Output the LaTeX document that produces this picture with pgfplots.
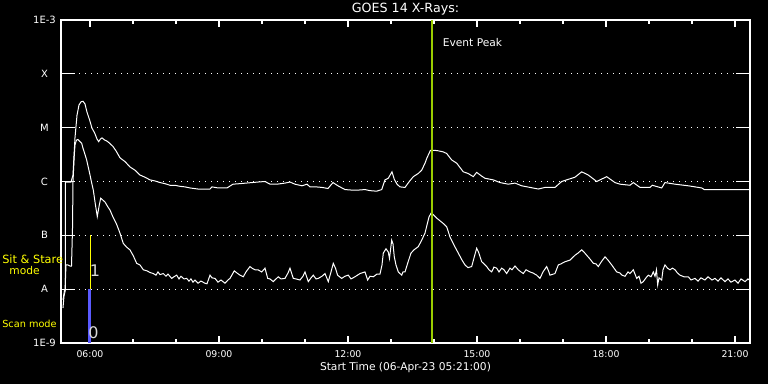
\documentclass[border=0pt]{standalone}
\usepackage{pgfplots}
\pgfplotsset{compat=1.18}
\usepackage{fontspec}
\setmainfont{DejaVu Sans}
\definecolor{peakgreen}{RGB}{154,205,0}
\definecolor{scanblue}{RGB}{90,90,255}
\definecolor{modeyellow}{RGB}{255,255,0}
\begin{document}
\begin{tikzpicture}
\path[fill=black, use as bounding box] (0,0) rectangle (576pt,288pt);
\begin{axis}[
  at={(45.75pt,30.75pt)}, anchor=south west,
  scale only axis, width=516.75pt, height=242.25pt,
  xmin=5.326, xmax=21.349, ymin=-9, ymax=-3,
  axis line style={white, line width=0.8pt},
  tick align=inside, xtick pos=both, ytick pos=both,
  xtick={6,9,12,15,18,21},
  xticklabels={06:00,09:00,12:00,15:00,18:00,21:00},
  minor x tick num=2,
  ytick={-9,-8,-7,-6,-5,-4,-3},
  yticklabels={1E-9,A,B,C,M,X,1E-3},
  major tick length=5.25pt, minor tick length=3pt,
  tick style={white, line width=0.8pt},
  ytick style={/pgfplots/major tick length=10.5pt},
  ymajorgrids,
  grid style={white, line width=0.8pt, dash pattern=on 0.75pt off 3.75pt},
  xticklabel style={anchor=center, yshift=-8.6pt, white, font=\fontsize{7}{8}\selectfont},
  yticklabel style={anchor=center, xshift=-12.4pt, white, font=\fontsize{7.5}{8}\selectfont},
  title={GOES 14 X-Rays:},
  title style={at={(axis description cs:0.5,1)}, anchor=center, yshift=2.25pt, white, font=\fontsize{9.5}{11}\selectfont},
  xlabel={Start Time (06-Apr-23 05:21:00)},
  xlabel style={at={(axis description cs:0.5,0)}, anchor=center, yshift=-18.75pt, white, font=\fontsize{8}{9}\selectfont},
]
\addplot[white, line width=0.75pt] coordinates {
(5.372,-8.20) (5.407,-8.02) (5.43,-8.02) (5.43,-6.01) (5.558,-6.01) (5.605,-5.88) (5.651,-5.19) (5.698,-4.77) (5.744,-4.58) (5.791,-4.52) (5.837,-4.51) (5.884,-4.56) (5.930,-4.71) (5.993,-4.86) (6.047,-5.01) (6.109,-5.10) (6.163,-5.21) (6.202,-5.26) (6.244,-5.21) (6.279,-5.19) (6.342,-5.23) (6.395,-5.25) (6.458,-5.29) (6.535,-5.35) (6.605,-5.43) (6.698,-5.56) (6.814,-5.63) (6.930,-5.73) (7.047,-5.79) (7.163,-5.88) (7.279,-5.92) (7.395,-5.97) (7.512,-5.99) (7.628,-6.02) (7.744,-6.04) (7.860,-6.07) (7.977,-6.07) (8.093,-6.09) (8.209,-6.10) (8.326,-6.12) (8.512,-6.14) (8.791,-6.14) (8.837,-6.10) (8.977,-6.12) (9.186,-6.12) (9.326,-6.05) (9.488,-6.04) (9.767,-6.02) (9.907,-6.01) (10.07,-6.00) (10.186,-6.05) (10.349,-6.05) (10.535,-6.03) (10.651,-6.01) (10.767,-6.05) (10.930,-6.08) (11.047,-6.05) (11.116,-6.10) (11.256,-6.10) (11.395,-6.11) (11.535,-6.13) (11.651,-6.02) (11.767,-6.08) (11.930,-6.15) (12.093,-6.16) (12.233,-6.16) (12.395,-6.15) (12.512,-6.17) (12.667,-6.18) (12.784,-6.15) (12.860,-5.97) (12.937,-5.94) (13.023,-5.82) (13.077,-5.96) (13.140,-6.05) (13.209,-6.10) (13.326,-6.11) (13.426,-6.00) (13.519,-5.91) (13.635,-5.85) (13.714,-5.79) (13.791,-5.66) (13.837,-5.56) (13.919,-5.42) (14.0,-5.42) (14.100,-5.43) (14.216,-5.45) (14.295,-5.48) (14.412,-5.60) (14.528,-5.66) (14.681,-5.82) (14.791,-5.85) (14.914,-5.91) (14.993,-5.83) (15.109,-5.90) (15.186,-5.94) (15.379,-5.97) (15.535,-6.02) (15.728,-6.05) (15.884,-6.03) (16.040,-6.08) (16.233,-6.11) (16.426,-6.14) (16.581,-6.11) (16.814,-6.11) (16.970,-6.00) (17.123,-5.96) (17.279,-5.92) (17.435,-5.82) (17.588,-5.88) (17.784,-6.00) (18.016,-5.91) (18.209,-6.02) (18.326,-6.05) (18.558,-6.07) (18.635,-6.02) (18.791,-6.11) (19.023,-6.11) (19.077,-6.07) (19.295,-6.12) (19.372,-6.02) (19.605,-6.05) (19.914,-6.08) (20.226,-6.12) (20.286,-6.15) (21.349,-6.15)
};
\addplot[white, line width=0.75pt] coordinates {
(5.372,-8.35) (5.395,-8.13) (5.419,-8.05) (5.442,-7.55) (5.488,-7.55) (5.535,-7.57) (5.570,-7.57) (5.593,-6.90) (5.605,-6.01) (5.628,-5.60) (5.651,-5.32) (5.686,-5.23) (5.721,-5.22) (5.767,-5.26) (5.807,-5.29) (5.837,-5.38) (5.877,-5.48) (5.923,-5.60) (5.953,-5.71) (5.993,-5.85) (6.035,-6.01) (6.077,-6.16) (6.128,-6.44) (6.170,-6.65) (6.209,-6.47) (6.249,-6.31) (6.291,-6.34) (6.349,-6.38) (6.407,-6.46) (6.465,-6.53) (6.535,-6.66) (6.612,-6.78) (6.698,-6.96) (6.774,-7.15) (6.853,-7.22) (6.930,-7.27) (7.007,-7.38) (7.086,-7.52) (7.163,-7.55) (7.240,-7.64) (7.326,-7.66) (7.395,-7.69) (7.472,-7.71) (7.535,-7.74) (7.581,-7.68) (7.628,-7.73) (7.705,-7.71) (7.767,-7.76) (7.814,-7.72) (7.900,-7.80) (7.953,-7.77) (8.016,-7.74) (8.070,-7.81) (8.116,-7.76) (8.186,-7.81) (8.249,-7.80) (8.302,-7.85) (8.349,-7.81) (8.395,-7.87) (8.442,-7.83) (8.512,-7.89) (8.581,-7.85) (8.674,-7.89) (8.721,-7.90) (8.791,-7.74) (8.837,-7.79) (8.907,-7.80) (8.977,-7.87) (9.047,-7.83) (9.140,-7.89) (9.209,-7.83) (9.256,-7.80) (9.356,-7.66) (9.419,-7.70) (9.488,-7.74) (9.565,-7.77) (9.628,-7.68) (9.721,-7.58) (9.767,-7.61) (9.837,-7.64) (9.907,-7.64) (9.993,-7.68) (10.07,-7.61) (10.133,-7.80) (10.186,-7.81) (10.263,-7.86) (10.326,-7.81) (10.379,-7.77) (10.442,-7.81) (10.535,-7.80) (10.605,-7.70) (10.651,-7.61) (10.728,-7.80) (10.791,-7.81) (10.884,-7.83) (10.953,-7.76) (11.0,-7.68) (11.077,-7.86) (11.140,-7.79) (11.193,-7.74) (11.256,-7.81) (11.309,-7.80) (11.395,-7.76) (11.465,-7.71) (11.542,-7.86) (11.605,-7.68) (11.658,-7.52) (11.709,-7.61) (11.758,-7.74) (11.853,-7.80) (11.930,-7.76) (12.007,-7.74) (12.070,-7.81) (12.163,-7.77) (12.279,-7.71) (12.395,-7.68) (12.458,-7.83) (12.512,-7.76) (12.588,-7.77) (12.674,-7.72) (12.744,-7.72) (12.791,-7.55) (12.821,-7.33) (12.884,-7.25) (12.937,-7.31) (12.965,-7.43) (13.016,-7.09) (13.047,-7.16) (13.077,-7.40) (13.116,-7.55) (13.170,-7.68) (13.249,-7.74) (13.279,-7.68) (13.326,-7.68) (13.395,-7.50) (13.465,-7.33) (13.535,-7.27) (13.635,-7.21) (13.714,-7.09) (13.791,-6.96) (13.837,-6.81) (13.884,-6.66) (13.930,-6.59) (13.977,-6.61) (14.063,-6.68) (14.140,-6.73) (14.216,-6.78) (14.295,-6.84) (14.372,-7.03) (14.465,-7.18) (14.565,-7.33) (14.651,-7.46) (14.721,-7.55) (14.791,-7.60) (14.877,-7.58) (14.930,-7.42) (14.993,-7.24) (15.035,-7.31) (15.109,-7.49) (15.163,-7.53) (15.226,-7.58) (15.279,-7.64) (15.342,-7.68) (15.395,-7.59) (15.458,-7.61) (15.512,-7.68) (15.574,-7.61) (15.628,-7.64) (15.690,-7.71) (15.767,-7.61) (15.814,-7.64) (15.884,-7.57) (15.960,-7.64) (16.023,-7.68) (16.077,-7.71) (16.140,-7.64) (16.233,-7.68) (16.302,-7.70) (16.388,-7.74) (16.465,-7.80) (16.535,-7.68) (16.620,-7.58) (16.663,-7.66) (16.698,-7.74) (16.814,-7.71) (16.891,-7.55) (16.953,-7.53) (17.047,-7.49) (17.163,-7.46) (17.279,-7.37) (17.349,-7.33) (17.435,-7.27) (17.488,-7.31) (17.551,-7.37) (17.628,-7.44) (17.705,-7.52) (17.767,-7.53) (17.821,-7.58) (17.884,-7.50) (17.977,-7.40) (18.047,-7.46) (18.133,-7.55) (18.186,-7.61) (18.249,-7.68) (18.326,-7.70) (18.372,-7.74) (18.442,-7.76) (18.512,-7.68) (18.558,-7.71) (18.635,-7.64) (18.714,-7.80) (18.767,-7.76) (18.814,-7.89) (18.867,-7.86) (18.930,-7.79) (18.984,-7.74) (19.047,-7.77) (19.100,-7.68) (19.140,-7.76) (19.174,-7.64) (19.202,-7.92) (19.233,-7.79) (19.295,-7.83) (19.326,-7.64) (19.372,-7.55) (19.430,-7.61) (19.488,-7.64) (19.547,-7.61) (19.605,-7.64) (19.663,-7.70) (19.721,-7.74) (19.814,-7.77) (19.914,-7.77) (19.977,-7.83) (20.070,-7.80) (20.140,-7.85) (20.209,-7.79) (20.302,-7.83) (20.372,-7.77) (20.465,-7.83) (20.535,-7.80) (20.605,-7.85) (20.674,-7.79) (20.767,-7.86) (20.837,-7.81) (20.907,-7.87) (21.0,-7.83) (21.070,-7.89) (21.140,-7.81) (21.233,-7.86) (21.302,-7.81) (21.349,-7.84)
};
\addplot[scanblue, line width=2.25pt] coordinates {(5.984,-9) (5.984,-8)};
\addplot[modeyellow, line width=0.9pt] coordinates {(6.016,-8) (6.016,-7)};
\addplot[peakgreen, line width=1.9pt] coordinates {(13.953,-9) (13.953,-3)};
\end{axis}
\begin{scope}[x=0.75pt,y=0.75pt]
\node[modeyellow, font=\fontsize{8.5}{9}\selectfont, inner sep=0pt, anchor=west] at (2,125) {Sit \& Stare};
\node[modeyellow, font=\fontsize{8}{9}\selectfont, inner sep=0pt] at (24.5,113) {mode};
\node[modeyellow, font=\fontsize{7.3}{9}\selectfont, inner sep=0pt, anchor=west] at (2,60) {Scan mode};
\node[gray!30!white, font=\fontsize{12}{13}\selectfont, inner sep=0pt] at (95,113) {1};
\node[gray!30!white, font=\fontsize{12}{13}\selectfont, inner sep=0pt] at (93.5,51) {0};
\node[white, font=\fontsize{8}{9}\selectfont, inner sep=0pt] at (472.5,341.5) {Event Peak};
\end{scope}
\end{tikzpicture}
\end{document}
